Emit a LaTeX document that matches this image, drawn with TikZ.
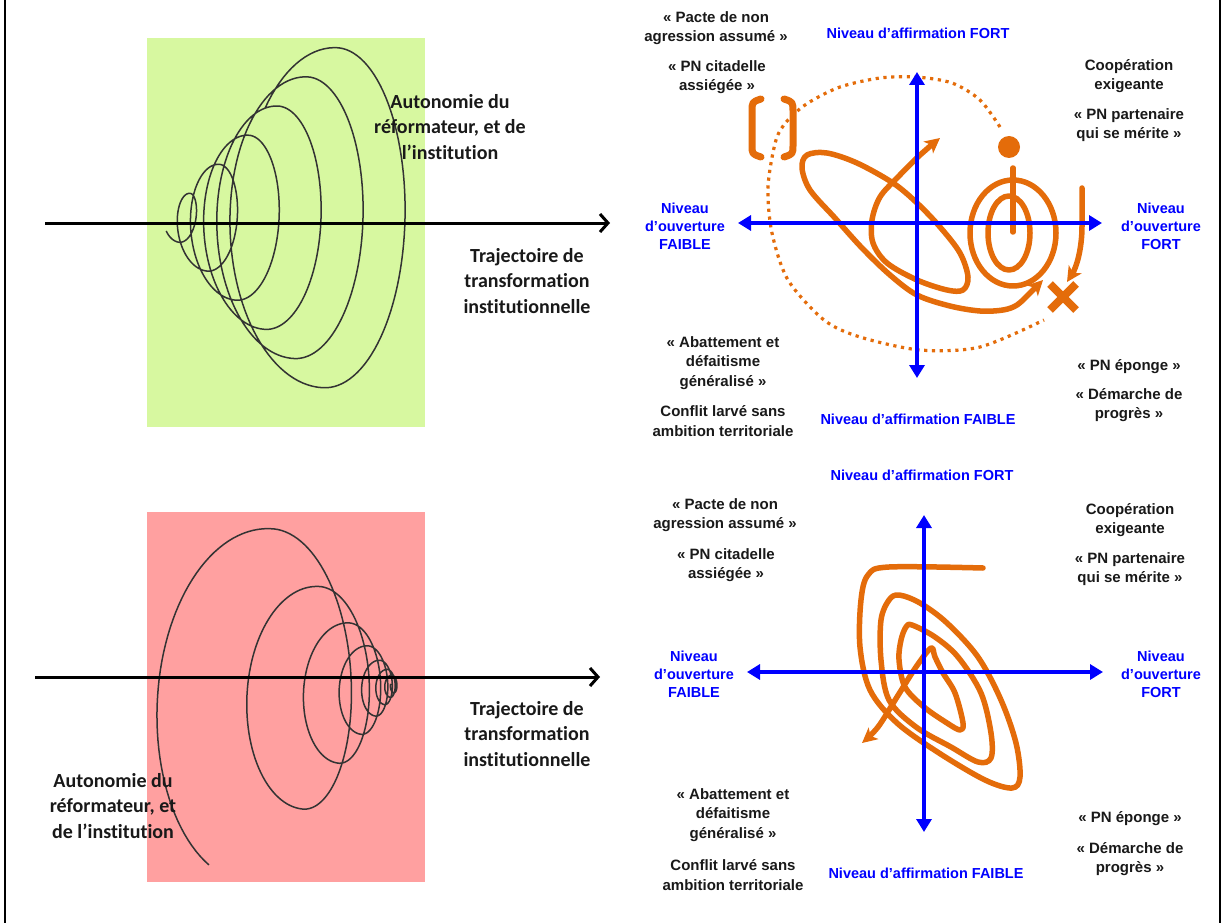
\documentclass[tikz,border=0pt]{standalone}
\usepackage{fontspec}
\setmainfont{Liberation Sans}
\newfontfamily\calib[Ligatures=NoCommon]{Carlito}
\usetikzlibrary{arrows.meta}
\definecolor{orng}{RGB}{228,108,10}
\definecolor{grn}{RGB}{215,248,160}
\definecolor{pnk}{RGB}{255,160,160}
\definecolor{axblue}{RGB}{0,0,255}
\begin{document}
\begin{tikzpicture}[x=1pt,y=-1pt,
  declare function={Rt(\a)=24+0.08111*\a; Rb(\a)=175*exp(-0.0012833*(\a-70));},
  lab/.style={font=\bfseries\fontsize{15}{19.5}\selectfont, align=center, text=black!90, inner sep=0pt},
  blab/.style={font=\bfseries\fontsize{14.5}{18}\selectfont, align=center, text=axblue, inner sep=0pt},
  clab/.style={font=\calib\bfseries\fontsize{20}{25.5}\selectfont, align=center, text=black!90, inner sep=0pt},
  bluax/.style={axblue, line width=4.5pt, {Triangle[length=13pt,width=15pt]}-{Triangle[length=13pt,width=15pt]}},
  orl/.style={orng, line width=5.5pt, line cap=round, line join=round},
  otip/.style={-{Stealth[length=15pt,width=15pt,inset=4pt]}},
  helix/.style={black!80, line width=1.5pt},
  traj/.style={line width=3pt, -{Straight Barb[length=8pt,width=18pt]}},
]
\useasboundingbox (0,0) rectangle (1224,923);
\fill[white] (0,0) rectangle (1224,923);
\draw[line width=2pt] (5,0) -- (5,923);
\draw[line width=2pt] (1220,0) -- (1220,923);

% ---------- left panels ----------
\fill[grn] (147,38) rectangle (425,427);
\fill[pnk] (147,512) rectangle (425,882);
\draw[helix] plot[domain=-150:1940, samples=700]
  ({160+Rt(\x)*(1+0.495*cos(\x)-0.055*abs(cos(\x)))}, {225-Rt(\x)*sin(\x)});
\draw[helix] plot[domain=0:2600, samples=900]
  ({400-0.8*Rb(\x)+Rb(\x)*(0.515*cos(250-\x)-0.065*abs(cos(250-\x)))}, {685-Rb(\x)*sin(250-\x)});

\coordinate (a1s) at (45,223); \coordinate (a1e) at (610,223);
\coordinate (a2s) at (35,677); \coordinate (a2e) at (600,677);
\draw[traj] (a1s) -- (a1e);
\draw[traj] (a2s) -- (a2e);

\node[clab] (aut1) at (450,127) {Autonomie du\\réformateur, et de\\l’institution};
\node[clab] (traj1) at (527,281) {Trajectoire de\\transformation\\institutionnelle};
\node[clab] (traj2) at (527,734) {Trajectoire de\\transformation\\institutionnelle};
\node[clab] (aut2) at (113,806) {Autonomie du\\réformateur, et\\de l’institution};

% ---------- top right panel ----------
\draw[orng, line width=3.2pt, dash pattern=on 3.2pt off 4.6pt] plot[smooth] coordinates {(1000,127) (980,100) (952,83) (916,77) (880,78) (840,87) (808,103) (788,120) (776,140) (768,187) (772,233) (788,280) (824,320) (860,337) (920,350) (980,347) (1044,320)};

\draw[orl, line width=7pt] (761,99) .. controls (752,102) .. (752,112) -- (752,145) .. controls (752,154) .. (761,157);
\draw[orl, line width=7pt] (784,99) .. controls (793,102) .. (793,112) -- (793,145) .. controls (793,154) .. (784,157);

\draw[orl, {Stealth[length=15pt,width=15pt,inset=4pt]}-{Stealth[length=15pt,width=15pt,inset=4pt]}] plot[smooth, tension=0.55] coordinates {(940,138) (920,155) (897,178) (880,197) (872,220) (873,243) (887,263) (917,280) (947,290) (963,290) (968,277) (960,253) (940,227) (917,203) (893,183) (857,163) (827,153) (807,155) (802,168) (810,190) (835,218) (862,248) (890,275) (917,295) (950,306) (980,311) (1003,310) (1017,305) (1030,293) (1043,280)};

\draw[orl] (1009,233) ellipse [x radius=21pt, y radius=37pt];
\draw[orl] (1013,233) ellipse [x radius=43pt, y radius=53pt];
\coordinate (s0) at (1013,168); \coordinate (s1) at (1013,232);
\draw[orl] (s0) -- (s1);
\fill[orng] (1009,147) circle[radius=11pt];
\coordinate (x1) at (1050,284); \coordinate (x2) at (1076,310);
\coordinate (x3) at (1076,284); \coordinate (x4) at (1050,310);
\draw[orng, line width=8pt] (x1) -- (x2) (x3) -- (x4);
\coordinate (r0) at (1082,188); \coordinate (r1) at (1082,226); \coordinate (r2) at (1067,282);
\draw[orl, otip] (r0) -- (r1) .. controls (1082,250) and (1076,268) .. (r2);

\coordinate (hl1) at (738,223); \coordinate (hr1) at (1102,223);
\coordinate (vt1) at (917,72); \coordinate (vb1) at (917,378);
\draw[bluax] (hl1) -- (hr1);
\draw[bluax] (vt1) -- (vb1);

\node[lab] (pacte1) at (716,28) {« Pacte de non\\agression assumé »};
\node[lab] (citad1) at (717,77) {« PN citadelle\\assiégée »};
\node[blab] (affF1) at (918,33) {Niveau d'affirmation FORT};
\node[lab] (coop1) at (1129,76) {Coopération\\exigeante};
\node[lab] (part1) at (1129,125) {« PN partenaire\\qui se mérite »};
\node[blab] (ouvL1) at (685,226) {Niveau\\d'ouverture\\FAIBLE};
\node[blab] (ouvR1) at (1161,226) {Niveau\\d'ouverture\\FORT};
\node[lab] (abat1) at (723,363) {« Abattement et\\défaitisme\\généralisé »};
\node[lab] (conf1) at (723,421) {Conflit larvé sans\\ambition territoriale};
\node[blab] (affW1) at (918,419) {Niveau d'affirmation FAIBLE};
\node[lab] (epon1) at (1129,367) {« PN éponge »};
\node[lab] (dem1) at (1129,405) {« Démarche de\\progrès »};

% ---------- bottom right panel ----------
\draw[orl, otip] plot[smooth, tension=0.55] coordinates {(983,568) (889,567) (868,575) (861,600) (860,647) (870,690) (897,723) (939,753) (985,780) (1012,788) (1020,777) (1016,743) (1001,700) (978,657) (947,623) (920,603) (899,595) (889,600) (881,620) (881,660) (889,700) (916,727) (951,747) (978,762) (991,758) (991,733) (981,693) (958,657) (935,637) (912,625) (906,627) (901,640) (899,660) (905,687) (924,707) (947,723) (960,730) (963,723) (955,693) (943,673) (935,657) (931,648) (916,667) (897,697) (878,727) (862,743)};

\coordinate (hl2) at (747,672); \coordinate (hr2) at (1103,672);
\coordinate (vt2) at (924,515); \coordinate (vb2) at (924,832);
\draw[bluax] (hl2) -- (hr2);
\draw[bluax] (vt2) -- (vb2);

\node[blab] (affF2) at (922,475) {Niveau d'affirmation FORT};
\node[lab] (pacte2) at (725,515) {« Pacte de non\\agression assumé »};
\node[lab] (citad2) at (726,565) {« PN citadelle\\assiégée »};
\node[lab] (coop2) at (1130,520) {Coopération\\exigeante};
\node[lab] (part2) at (1130,569) {« PN partenaire\\qui se mérite »};
\node[blab] (ouvL2) at (694,674) {Niveau\\d'ouverture\\FAIBLE};
\node[blab] (ouvR2) at (1161,674) {Niveau\\d'ouverture\\FORT};
\node[lab] (abat2) at (733,815) {« Abattement et\\défaitisme\\généralisé »};
\node[lab] (conf2) at (733,875) {Conflit larvé sans\\ambition territoriale};
\node[blab] (affW2) at (926,873) {Niveau d'affirmation FAIBLE};
\node[lab] (epon2) at (1130,819) {« PN éponge »};
\node[lab] (dem2) at (1130,859) {« Démarche de\\progrès »};
\end{tikzpicture}
\end{document}
